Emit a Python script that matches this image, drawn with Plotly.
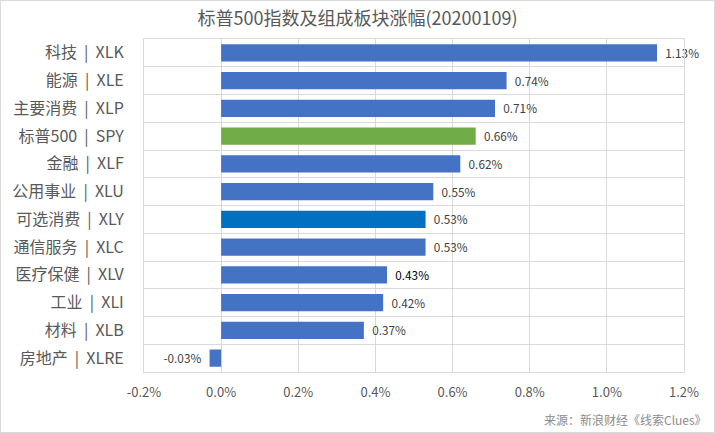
import plotly.graph_objects as go

categories = ["科技 | XLK", "能源 | XLE", "主要消费 | XLP", "标普500 | SPY", "金融 | XLF",
              "公用事业 | XLU", "可选消费 | XLY", "通信服务 | XLC", "医疗保健 | XLV",
              "工业 | XLI", "材料 | XLB", "房地产 | XLRE"]
values = [1.13, 0.74, 0.71, 0.66, 0.62, 0.55, 0.53, 0.53, 0.43, 0.42, 0.37, -0.03]
bar_colors = ["#4472C4", "#4472C4", "#4472C4", "#70AD47", "#4472C4", "#4472C4",
              "#0070C0", "#4472C4", "#4472C4", "#4472C4", "#4472C4", "#4472C4"]
label_colors = ["#404040"] * 8 + ["#000000"] + ["#404040"] * 3
x_ticks = [-0.2, 0.0, 0.2, 0.4, 0.6, 0.8, 1.0, 1.2]
x_ticktext = ["-0.2%", "0.0%", "0.2%", "0.4%", "0.6%", "0.8%", "1.0%", "1.2%"]
title = "标普500指数及组成板块涨幅(20200109)"
source = "来源：新浪财经《线索Clues》"

FONT = "Noto Sans CJK SC"
NB = "\u00a0"
y_labels = [c.replace(" | ", NB * 2 + "|" + NB * 2) for c in categories]
bar_text = [(NB * 2 + f"{v:.2f}%") if v >= 0 else (f"{v:.2f}%" + NB * 2) for v in values]

fig = go.Figure(go.Bar(
    x=values, y=y_labels, orientation="h",
    marker=dict(color=bar_colors, line=dict(width=0)),
    width=0.62,
    text=bar_text,
    textposition="outside",
    textfont=dict(family=FONT, size=13, color=label_colors),
    cliponaxis=False,
))

fig.update_layout(
    width=715, height=433,
    margin=dict(l=144, r=31, t=39, b=61),
    paper_bgcolor="white", plot_bgcolor="white",
    showlegend=False,
    title=dict(text=title, x=0.5, xanchor="center", y=1 - 19 / 433, yanchor="middle",
               font=dict(family=FONT, size=18, color="#595959")),
    font=dict(family=FONT, color="#595959"),
    xaxis=dict(range=[-0.2, 1.2], tickvals=x_ticks, ticktext=x_ticktext,
               showgrid=True, gridcolor="#D9D9D9", gridwidth=1,
               zeroline=False, showline=True, linecolor="#D9D9D9", mirror=True,
               tickfont=dict(family=FONT, size=13, color="#595959"), ticks="",
               ticklabelstandoff=8),
    yaxis=dict(autorange="reversed", type="category", tickson="boundaries",
               showgrid=True, gridcolor="#D9D9D9", gridwidth=1,
               showline=True, linecolor="#D9D9D9", mirror=True, ticks="",
               tickfont=dict(family=FONT, size=16, color="#595959"),
               ticklabelstandoff=16),
    bargap=0.38,
    annotations=[dict(text=source, xref="paper", yref="paper", x=1 + 25 / 540, y=-47 / 333,
                      xanchor="right", yanchor="middle", showarrow=False,
                      font=dict(family=FONT, size=12, color="#8C8C8C"))],
    shapes=[dict(type="rect", xref="paper", yref="paper",
                 x0=-143.5 / 540, x1=1 + 30.5 / 540, y0=-60.5 / 333, y1=1 + 38.5 / 333,
                 line=dict(color="#D9D9D9", width=1), fillcolor="rgba(0,0,0,0)", layer="below")],
)

fig.write_html("out.html", config={"displayModeBar": False},
               post_script="document.body.style.margin='0';document.body.style.padding='0';")
